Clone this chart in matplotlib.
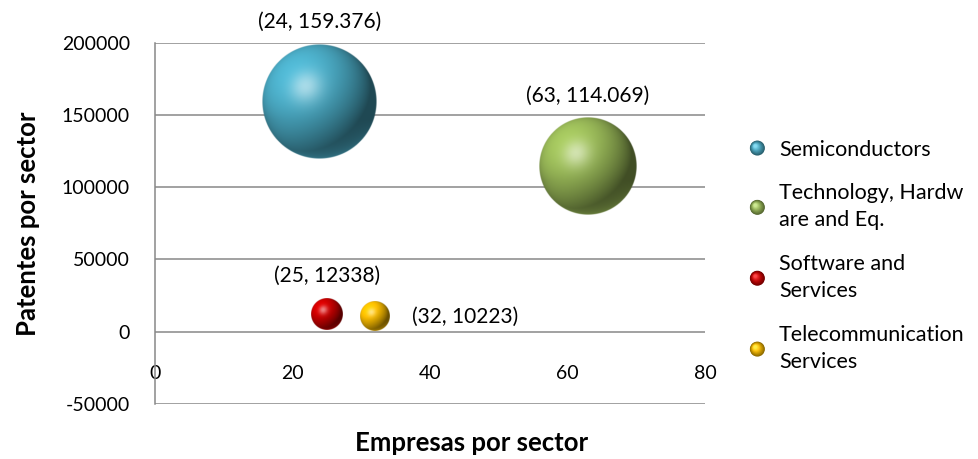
import numpy as np
import matplotlib
matplotlib.use("Agg")
from matplotlib import pyplot as plt
from matplotlib.colors import to_rgb
from matplotlib.patches import Circle
from matplotlib.legend_handler import HandlerBase

# data
sectors = ["Semiconductors", "Technology, Hardw\nare and Eq.",
           "Software and\nServices", "Telecommunication\nServices"]
empresas = [24, 63, 25, 32]
patentes = [159376, 114069, 12338, 10223]
bubble_size = [159376, 114069, 12338, 10223]
point_labels = ["(24, 159.376)", "(63, 114.069)", "(25, 12338)", "(32, 10223)"]
colors = ["#4BACC6", "#9BBB59", "#D00000", "#FFC000"]

x_ticks = [0, 20, 40, 60, 80]
y_ticks = [-50000, 0, 50000, 100000, 150000, 200000]

FONT = "Lato"
MAX_DIAM = 115  # pixels for the biggest bubble
plt.rcParams["axes.unicode_minus"] = False


def sphere_rgba(color, n=240):
    """Shaded sphere image, lit from upper left."""
    base = np.array(to_rgb(color))
    t = np.linspace(-1, 1, n)
    X, Y = np.meshgrid(t, -t)
    r = np.sqrt(X**2 + Y**2)
    Z = np.sqrt(np.clip(1 - r**2, 0, 1))
    L = np.array([-0.45, 0.5, 0.74])
    L = L / np.linalg.norm(L)
    diff = np.clip(X * L[0] + Y * L[1] + Z * L[2], 0, 1)
    H = L + np.array([0, 0, 1.0])
    H = H / np.linalg.norm(H)
    spec = np.clip(X * H[0] + Y * H[1] + Z * H[2], 0, 1) ** 25
    shade = 0.42 + 0.68 * diff
    rgb = base[None, None, :] * shade[..., None]
    # soft reflected light at the bottom
    refl = np.clip(-Y - 0.3, 0, 1) * np.clip(1 - Z, 0, 1) * 0.8
    rgb = rgb + base[None, None, :] * refl[..., None] * 0.5
    rgb = rgb * (1 - 0.5 * spec[..., None]) + 0.5 * spec[..., None]
    rgb = np.clip(rgb, 0, 1)
    alpha = np.clip((1 - r) * n / 2, 0, 1)
    return np.dstack([rgb, alpha])


class SphereHandler(HandlerBase):
    """Small shaded ball for the legend, made of stacked circles."""
    def create_artists(self, legend, orig_handle, xdescent, ydescent,
                       width, height, fontsize, trans):
        base = np.array(to_rgb(orig_handle.get_facecolor()))
        cx = -xdescent + width / 2
        cy = -ydescent + height / 2
        R = 5.4
        arts = []
        n = 14
        for k in range(n):
            f = k / n
            r = R * (1 - 0.85 * f)
            col = base * (0.55 + 0.7 * f)
            col = col * (1 - 0.35 * f**3) + 0.35 * f**3
            arts.append(Circle((cx - 0.3 * R * f, cy + 0.3 * R * f), r,
                               facecolor=np.clip(col, 0, 1), edgecolor="none",
                               transform=trans))
        return arts


fig = plt.figure(figsize=(9.79, 4.59), dpi=100)
ax = fig.add_axes([155 / 979, 1 - 404 / 459, 550 / 979, 361.5 / 459])
ax.set_xlim(0, 80)
ax.set_ylim(-50000, 200000)
ax.set_xticks(x_ticks)
ax.set_yticks(y_ticks)
ax.grid(axis="y", color="#888888", lw=1.1, zorder=0)
ax.set_axisbelow(True)
for s in ["top", "right"]:
    ax.spines[s].set_visible(False)
ax.spines["left"].set_color("#888888")
ax.spines["left"].set_linewidth(1.1)
ax.spines["bottom"].set_position(("data", 0))
ax.spines["bottom"].set_visible(False)
ax.tick_params(axis="both", length=0, labelsize=14, colors="black")
ax.tick_params(axis="x", pad=24)
ax.tick_params(axis="y", pad=18)
for lab in ax.get_xticklabels() + ax.get_yticklabels():
    lab.set_fontfamily(FONT)

# pixel -> data scaling, so bubbles stay round
px_x = 550 / 80
px_y = 361.5 / 250000

for i in range(len(empresas)):
    d = MAX_DIAM * np.sqrt(bubble_size[i] / max(bubble_size))
    rx = d / 2 / px_x
    ry = d / 2 / px_y
    x, y = empresas[i], patentes[i]
    ax.imshow(sphere_rgba(colors[i]), extent=(x - rx, x + rx, y - ry, y + ry),
              origin="upper", aspect="auto", zorder=3, interpolation="bilinear")
    if i == 3:
        off, ha, va = (d / 2 + 22, 0), "left", "center"
    else:
        off, ha, va = (0, d / 2 + 12), "center", "bottom"
    ax.annotate(point_labels[i], (x, y), xytext=off, textcoords="offset pixels",
                ha=ha, va=va, fontsize=15, fontfamily=FONT, zorder=4)

ax.set_xlim(0, 80)
ax.set_ylim(-50000, 200000)

ax.set_xlabel("Empresas por sector", fontsize=18.5, fontweight="bold",
              fontfamily=FONT)
ax.xaxis.set_label_coords(0.575, -0.108)
ax.xaxis.label.set_va("center")
ax.set_ylabel("Patentes por sector", fontsize=18.5, fontweight="bold",
              fontfamily=FONT)
ax.yaxis.set_label_coords(-0.23, 0.5)
ax.yaxis.label.set_va("center")

handles = [Circle((0, 0), 1, facecolor=c) for c in colors]
leg = fig.legend(handles, sectors,
                 handler_map={Circle: SphereHandler()},
                 loc="upper left", bbox_to_anchor=(738 / 979, 1 - 131 / 459),
                 frameon=False, prop={"family": FONT, "size": 15.5},
                 labelspacing=1.1, handlelength=1.0, handletextpad=0.5,
                 borderaxespad=0)
for t in leg.get_texts():
    t.set_linespacing(1.45)

fig.savefig("out.png", dpi=100)
